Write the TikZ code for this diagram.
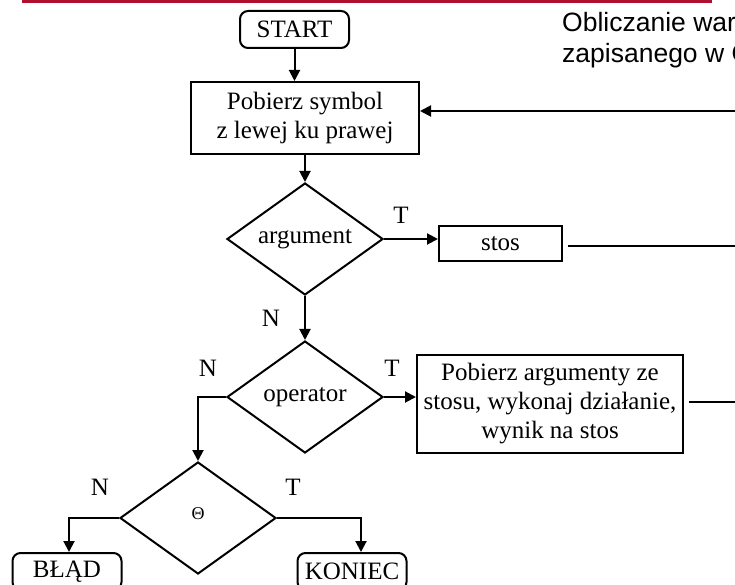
\documentclass[tikz,border=0pt]{standalone}
\usepackage{fontspec}
\setmainfont{Liberation Serif}
\newfontfamily\titlefont{Liberation Sans}
\usepackage{tikz}
\usetikzlibrary{arrows.meta,shapes.geometric,positioning}
\definecolor{slidered}{HTML}{B01030}

\begin{document}
\begin{tikzpicture}[x=1pt,y=-1pt, every node/.style={font=\fontsize{25}{29}\selectfont,align=center,inner sep=0pt},
  term/.style={rounded corners=8pt,draw,line width=2pt,minimum width=109pt,minimum height=37pt},
  proc/.style={draw,line width=2pt},
  cond/.style={diamond,aspect=1.4,draw,line width=2pt,minimum width=156pt,minimum height=112pt},
  arr/.style={-{Triangle[length=11pt,width=11pt]},line width=2pt},
  ln/.style={line width=2pt}]
  \useasboundingbox (0,0) rectangle (735,585);
  \clip (0,0) rectangle (735,585);
  \fill[white] (0,0) rectangle (735,585);
  \draw[slidered,line width=3pt] (22,1.5) -- (712,1.5);
  \node[font=\titlefont\fontsize{26.5}{31}\selectfont,anchor=base west] (titleA) at (562,32) {Obliczanie wartości};
  \node[font=\titlefont\fontsize{26.5}{31}\selectfont,anchor=base west] (titleB) at (562,63) {zapisanego w ONP};
  % bloki
  \node[term] (start) at (294.5,29.5) {START};
  \node[proc,minimum width=228pt,minimum height=72pt] (pob) at (305,118) {Pobierz symbol\\z lewej ku prawej};
  \node[cond] (arg) at (305,239) {\raisebox{5pt}{argument}};
  \node[proc,minimum width=123pt,minimum height=35pt] (stos) at (500.5,243.5) {stos};
  \node[cond] (opr) at (305,397) {\raisebox{4pt}{operator}};
  \node[proc,minimum width=266pt,minimum height=98pt] (wyk) at (550,404) {Pobierz argumenty ze\\stosu, wykonaj działanie,\\wynik na stos};
  \node[cond] (teta) at (198,518) {\raisebox{9pt}{\fontsize{18}{18}\selectfont Θ}};
  \node[term] (blad) at (67,571.5) {BŁĄD};
  \node[term] (kon) at (352,571.5) {KONIEC};
  % etykiety T/N
  \node (tArg) at (401,215) {T};
  \node (nArg) at (271,318) {N};
  \node (tOpr) at (392,368) {T};
  \node (nOpr) at (208,368) {N};
  \node (nTeta) at (100,487) {N};
  \node (tTeta) at (293,487) {T};
  \coordinate (r1) at (740,111);
  \coordinate (r2) at (740,246);
  \coordinate (r3) at (740,402);
  % strzalki
  \draw[arr] (start) -- (start |- pob.north);
  \draw[arr] (pob) -- (arg);
  \draw[arr] (arg) -- (opr);
  \draw[arr] (arg.east) -- (arg.east -| stos.west);
  \draw[arr] (opr.east) -- (opr.east -| wyk.west);
  \draw[arr] (opr.west) -| (teta.north);
  \draw[arr] (teta.west) -| ([xshift=2pt]blad.north);
  \draw[arr] (teta.east) -| ([xshift=9pt]kon.north);
  \draw[arr] (r1) -- (r1 -| pob.east);
  \draw[ln] (r2 -| stos.east) ++(5,0) -- (r2);
  \draw[ln] (r3 -| wyk.east) ++(5,0) -- (r3);
\end{tikzpicture}
\end{document}
